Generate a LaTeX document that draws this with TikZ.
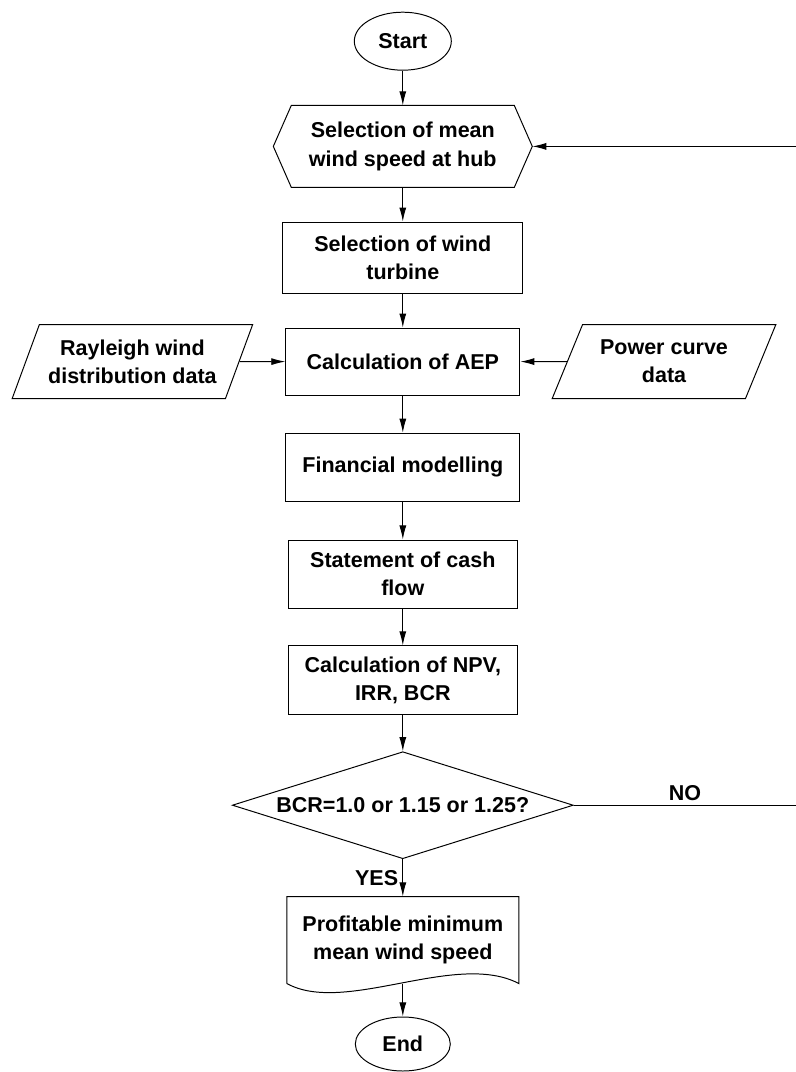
\documentclass[tikz,border=0pt]{standalone}
\usepackage{fontspec}
\setmainfont{Liberation Sans}
\usetikzlibrary{shapes.geometric,arrows.meta}

\begin{document}
\begin{tikzpicture}[
  >={Latex[length=10pt,width=5pt]},
  line width=0.7pt,
  font=\bfseries\fontsize{15.3}{20}\selectfont,
  terminal/.style={ellipse, draw, minimum width=2.425cm, minimum height=1.45cm, inner sep=0pt},
  process/.style={rectangle, draw, minimum width=5.85cm, minimum height=1.7cm, align=center},
  io/.style={trapezium, trapezium left angle=64, trapezium right angle=116, trapezium stretches=true, draw, minimum height=1.85cm, align=center},
  choice/.style={diamond, draw, aspect=3.19, inner sep=0pt, minimum width=8.525cm, minimum height=2.675cm},
  holder/.style={rectangle, align=center},
  arrow/.style={->},
  lbl/.style={inner sep=3pt}
]
\useasboundingbox (0,0) rectangle (19.875,-26.8);

% Start and hub speed
\node[terminal] (start) at (10.07,-1.03) {Start};
\node[holder, minimum width=6.45cm, minimum height=2.025cm] (hub) at (10.07,-3.66) {Selection of mean\\wind speed at hub};
\draw (hub.west) -- ([xshift=0.45cm]hub.north west) -- ([xshift=-0.45cm]hub.north east) -- (hub.east)
  -- ([xshift=-0.45cm]hub.south east) -- ([xshift=0.45cm]hub.south west) -- cycle;

% Main column
\node[process, minimum width=6cm, minimum height=1.775cm] (turbine) at (10.07,-6.44) {Selection of wind\\turbine};
\node[process, minimum height=1.675cm] (aep) at (10.07,-9.04) {Calculation of AEP};
\node[process] (finance) at (10.07,-11.68) {Financial modelling};
\node[process, minimum width=5.725cm] (cash) at (10.07,-14.35) {Statement of cash\\flow};
\node[process, minimum width=5.725cm, minimum height=1.725cm] (npv) at (10.07,-17.01) {Calculation of NPV,\\IRR, BCR};

% Inputs
\node[io, minimum width=6.025cm] (rayleigh) at (3.31,-9.04) {Rayleigh wind\\distribution data};
\node[io, minimum width=5.6cm] (power) at (16.6,-9.04) {Power curve\\data};

% Decision
\node[choice] (bcr) at (10.07,-20.13) {BCR=1.0 or 1.15 or 1.25?};
\coordinate (loop) at (19.9,-20.13);

% Result and end
\node[holder, minimum width=5.775cm, minimum height=2.15cm] (result) at (10.07,-23.5) {Profitable minimum\\mean wind speed};
\draw (result.south west) -- (result.north west) -- (result.north east) -- (result.south east)
  .. controls +(-1.575,0.825) and +(1.45,-0.8) .. (result.south west);
\node[terminal, minimum width=2.375cm, minimum height=1.35cm] (end) at (10.07,-26.1) {End};

% Arrows
\draw[arrow] (start) -- (hub);
\draw[arrow] (hub) -- (turbine);
\draw[arrow] (turbine) -- (aep);
\draw[arrow] (rayleigh) -- (aep);
\draw[arrow] (power) -- (aep);
\draw[arrow] (aep) -- (finance);
\draw[arrow] (finance) -- (cash);
\draw[arrow] (cash) -- (npv);
\draw[arrow] (npv) -- (bcr);
\draw[arrow] (bcr) -- node[lbl, left] {YES} (result);
\draw[arrow] (result) -- (end);
\draw[arrow] (bcr) -- node[lbl, above] {NO} (loop) |- (hub);

\end{tikzpicture}
\end{document}
